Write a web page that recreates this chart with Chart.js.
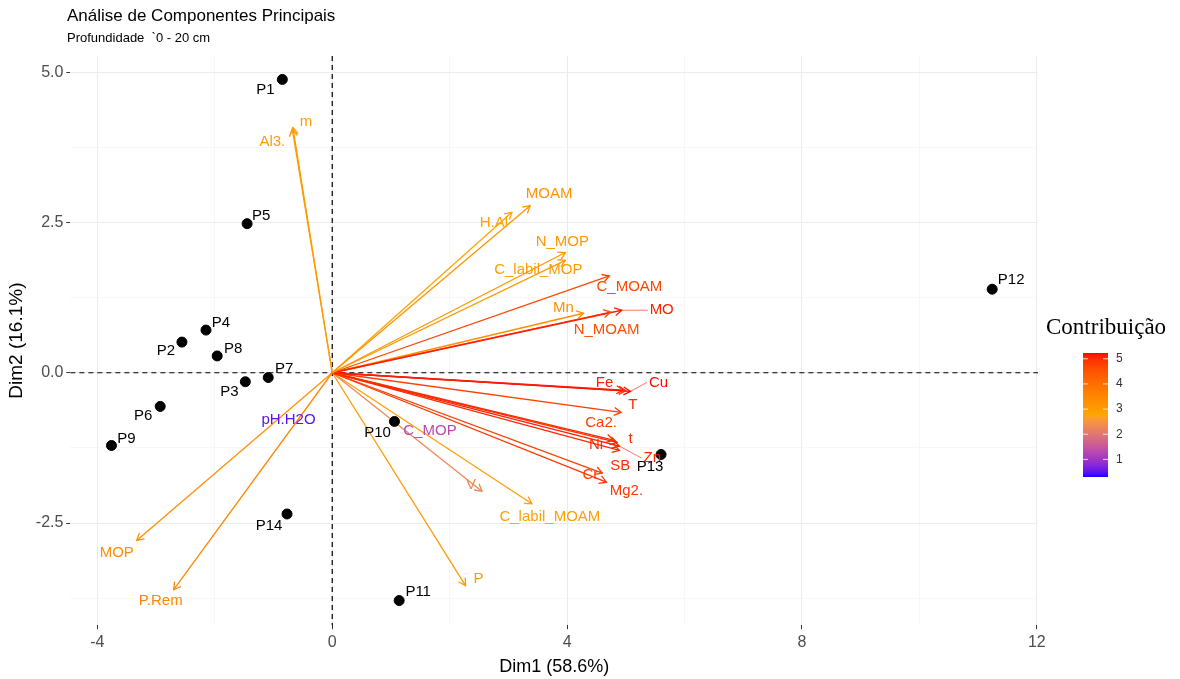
<!DOCTYPE html>
<html>
<head>
<meta charset="utf-8">
<title>PCA biplot</title>
<script src="https://cdn.jsdelivr.net/npm/chart.js@4.4.1/dist/chart.umd.min.js"></script>
<style>
  html, body { margin: 0; padding: 0; background: #fff; }
  #wrap { width: 1180px; height: 679px; position: relative; }
</style>
</head>
<body>
<div id="wrap"><canvas id="biplot"></canvas></div>
<script>
const chartTitle = 'Análise de Componentes Principais';
const chartSubtitle = 'Profundidade  `0 - 20 cm';
const xAxisTitle = 'Dim1 (58.6%)';
const yAxisTitle = 'Dim2 (16.1%)';
const legendTitle = 'Contribuição';

// individuals (sample points)
const indNames = ['P1', 'P2', 'P3', 'P4', 'P5', 'P6', 'P7', 'P8', 'P9', 'P10', 'P11', 'P12', 'P13', 'P14'];
const indX = [-0.85, -2.56, -1.48, -2.15, -1.45, -2.93, -1.09, -1.96, -3.76, 1.06, 1.14, 11.24, 5.60, -0.77];
const indY = [4.88, 0.51, -0.15, 0.71, 2.48, -0.56, -0.08, 0.28, -1.21, -0.81, -3.79, 1.39, -1.36, -2.35];

// variables (arrows from origin) and their contribution
const varNames = ['Al3.', 'm', 'MOAM', 'H.Al', 'N_MOP', 'C_labil_MOP', 'C_MOAM', 'MO', 'N_MOAM', 'Mn',
  'Fe', 'Cu', 'T', 'Ca2.', 't', 'Ni', 'Zn', 'SB', 'Cr', 'Mg2.',
  'V', 'C_labil_MOAM', 'P', 'MOP', 'P.Rem', 'pH.H2O', 'C_MOP'];
const varX = [-0.68, -0.67, 3.37, 3.06, 3.97, 3.97, 4.72, 4.93, 4.74, 4.28,
  4.96, 5.08, 5.00, 4.92, 4.79, 4.85, 4.89, 4.89, 4.60, 4.67,
  2.55, 3.40, 2.27, -3.33, -2.70, -0.03, 0.03];
const varY = [4.05, 4.08, 2.78, 2.67, 2.00, 1.87, 1.61, 1.04, 1.01, 0.99,
  -0.29, -0.31, -0.30, -0.66, -1.12, -1.16, -1.22, -1.29, -1.67, -1.82,
  -1.97, -2.18, -3.54, -2.79, -3.61, -0.02, -0.03];
const varContrib = [3.0, 3.0, 3.2, 2.8, 3.1, 3.0, 4.7, 5.1, 4.6, 3.3,
  5.1, 5.2, 5.0, 4.8, 5.0, 5.0, 5.1, 5.0, 4.8, 4.9,
  2.3, 2.9, 3.0, 3.3, 3.5, 0.5, 1.3];

// axes
const xTickValues = [-4, -2, 0, 2, 4, 6, 8, 10, 12];
const xTickLabels = ['-4', '', '0', '', '4', '', '8', '', '12'];
const yTickValues = [-3.75, -2.5, -1.25, 0, 1.25, 2.5, 3.75, 5];
const yTickLabels = ['', '-2.5', '', '0.0', '', '2.5', '', '5.0'];
const contribRange = [0.30, 5.23];
const contribTicks = [1, 2, 3, 4, 5];

// label nudges in px (repel-like placement), kept apart from the data
const indLabelNudge = {
  P1: [-17, 10], P2: [-16, 9], P3: [-16, 10], P4: [15, -7], P5: [14, -8], P6: [-17, 9], P7: [16, -9],
  P8: [16, -7], P9: [15, -7], P10: [-17, 11], P11: [19, -9], P12: [19, -9], P13: [-11, 12], P14: [-18, 12]
};
const varLabelNudge = {
  'Al3.': [-20, 13], 'm': [13, -6], 'MOAM': [19, -12], 'H.Al': [-18, 11], 'N_MOP': [-3, -11],
  'C_labil_MOP': [-27, 10], 'C_MOAM': [20, 11], 'MO': [40, 0, true], 'N_MOAM': [-4, 18], 'Mn': [-20, -5],
  'Fe': [-19, -7], 'Cu': [28, -9, true], 'T': [7, 14], 'Ca2.': [-20, 10], 't': [17, -1], 'Ni': [-21, 2],
  'Zn': [33, 12, true], 'SB': [1, 16], 'Cr': [-12, 2], 'Mg2.': [20, 9], 'V': [-11, -6],
  'C_labil_MOAM': [18, 13], 'P': [13, -7], 'MOP': [-20, 12], 'P.Rem': [-13, 11],
  'pH.H2O': [-42, 46], 'C_MOP': [96, 56]
};

// blue -> orange -> red, interpolated in Lab like ggplot
function hexToRgb(h) { return [1, 3, 5].map(i => parseInt(h.substr(i, 2), 16)); }
function rgbToLab(rgb) {
  const lin = rgb.map(c => { c /= 255; return c <= 0.04045 ? c / 12.92 : Math.pow((c + 0.055) / 1.055, 2.4); });
  const X = (lin[0] * 0.4124 + lin[1] * 0.3576 + lin[2] * 0.1805) / 0.95047;
  const Y = lin[0] * 0.2126 + lin[1] * 0.7152 + lin[2] * 0.0722;
  const Z = (lin[0] * 0.0193 + lin[1] * 0.1192 + lin[2] * 0.9505) / 1.08883;
  const f = t => t > 0.008856 ? Math.cbrt(t) : 7.787 * t + 16 / 116;
  return [116 * f(Y) - 16, 500 * (f(X) - f(Y)), 200 * (f(Y) - f(Z))];
}
function labToRgb(lab) {
  const fy = (lab[0] + 16) / 116, fx = fy + lab[1] / 500, fz = fy - lab[2] / 200;
  const inv = t => t > 0.206893 ? t * t * t : (t - 16 / 116) / 7.787;
  const X = inv(fx) * 0.95047, Y = inv(fy), Z = inv(fz) * 1.08883;
  const r = X * 3.2406 + Y * -1.5372 + Z * -0.4986;
  const g = X * -0.9689 + Y * 1.8758 + Z * 0.0415;
  const b = X * 0.0557 + Y * -0.2040 + Z * 1.0570;
  return [r, g, b].map(c => {
    c = c <= 0.0031308 ? 12.92 * c : 1.055 * Math.pow(c, 1 / 2.4) - 0.055;
    return Math.round(Math.max(0, Math.min(1, c)) * 255);
  });
}
const gradStops = ['#0000FF', '#FFA500', '#FF0000'].map(h => rgbToLab(hexToRgb(h)));
function contribColor(v) {
  let t = (v - contribRange[0]) / (contribRange[1] - contribRange[0]);
  t = Math.max(0, Math.min(1, t)) * (gradStops.length - 1);
  const i = Math.min(Math.floor(t), gradStops.length - 2);
  const f = t - i;
  const a = gradStops[i], b = gradStops[i + 1];
  const rgb = labToRgb([0, 1, 2].map(k => a[k] + (b[k] - a[k]) * f));
  return `rgb(${rgb[0]},${rgb[1]},${rgb[2]})`;
}

const FONT = "'Liberation Sans', Arial, sans-serif";

const datasets = [{
  label: 'individuals',
  data: indNames.map((n, i) => ({ x: indX[i], y: indY[i] })),
  backgroundColor: '#000',
  borderColor: '#000',
  pointRadius: 5,
  showLine: false,
}];
varNames.forEach((n, i) => {
  datasets.push({
    label: n,
    data: [{ x: 0, y: 0 }, { x: varX[i], y: varY[i] }],
    borderColor: contribColor(varContrib[i]),
    borderWidth: 1.3,
    pointRadius: 0,
    showLine: true,
  });
});

const biplotDecor = {
  id: 'biplotDecor',
  beforeDatasetsDraw(chart) {
    const { ctx, chartArea: a, scales: { x, y } } = chart;
    ctx.save();
    ctx.strokeStyle = '#000';
    ctx.lineWidth = 1.2;
    ctx.setLineDash([5, 4]);
    const x0 = x.getPixelForValue(0);
    const y0 = y.getPixelForValue(0);
    ctx.beginPath();
    ctx.moveTo(x0, a.top); ctx.lineTo(x0, a.bottom);
    ctx.moveTo(a.left, y0); ctx.lineTo(a.right, y0);
    ctx.stroke();
    ctx.restore();
  },
  afterDatasetsDraw(chart) {
    const { ctx } = chart;
    ctx.save();
    ctx.textAlign = 'center';
    ctx.textBaseline = 'middle';
    ctx.font = `15px ${FONT}`;
    // arrow heads + variable labels
    varNames.forEach((n, i) => {
      const meta = chart.getDatasetMeta(i + 1);
      const p0 = meta.data[0], p1 = meta.data[1];
      const col = contribColor(varContrib[i]);
      const dx = p1.x - p0.x, dy = p1.y - p0.y;
      const len = Math.hypot(dx, dy);
      ctx.strokeStyle = col;
      ctx.lineWidth = 1.3;
      if (len > 4) {
        const ang = Math.atan2(dy, dx), h = 8, spread = Math.PI / 6;
        ctx.beginPath();
        ctx.moveTo(p1.x - h * Math.cos(ang - spread), p1.y - h * Math.sin(ang - spread));
        ctx.lineTo(p1.x, p1.y);
        ctx.lineTo(p1.x - h * Math.cos(ang + spread), p1.y - h * Math.sin(ang + spread));
        ctx.stroke();
      }
      const nudge = varLabelNudge[n];
      const lx = p1.x + nudge[0], ly = p1.y + nudge[1];
      if (nudge[2]) {
        const w = ctx.measureText(n).width / 2 + 2;
        ctx.lineWidth = 0.6;
        ctx.beginPath();
        ctx.moveTo(p1.x, p1.y);
        ctx.lineTo(lx - Math.sign(nudge[0]) * w, ly);
        ctx.stroke();
      }
      ctx.fillStyle = col;
      ctx.fillText(n, lx, ly);
    });
    // individual labels
    const meta = chart.getDatasetMeta(0);
    ctx.fillStyle = '#000';
    indNames.forEach((n, i) => {
      const p = meta.data[i];
      const nudge = indLabelNudge[n];
      ctx.fillText(n, p.x + nudge[0], p.y + nudge[1]);
    });
    ctx.restore();
  },
  afterDraw(chart) {
    const { ctx } = chart;
    ctx.save();
    ctx.textBaseline = 'middle';
    ctx.textAlign = 'left';
    ctx.fillStyle = '#000';
    ctx.font = `17px ${FONT}`;
    ctx.fillText(chartTitle, 67, 16);
    ctx.font = `13px ${FONT}`;
    ctx.fillText(chartSubtitle, 67, 38);

    // colour bar legend
    ctx.font = "23px 'Liberation Serif', 'Times New Roman', serif";
    ctx.fillText(legendTitle, 1046, 328);
    const bx = 1083, bw = 25, top = 353, bot = 477;
    for (let yy = top; yy < bot; yy++) {
      const v = contribRange[1] - (yy + 0.5 - top) / (bot - top) * (contribRange[1] - contribRange[0]);
      ctx.fillStyle = contribColor(v);
      ctx.fillRect(bx, yy, bw, 1);
    }
    ctx.font = `12px ${FONT}`;
    contribTicks.forEach(t => {
      const yy = top + (contribRange[1] - t) / (contribRange[1] - contribRange[0]) * (bot - top);
      ctx.strokeStyle = 'rgba(255,255,255,0.8)';
      ctx.lineWidth = 1;
      ctx.beginPath();
      ctx.moveTo(bx, yy); ctx.lineTo(bx + 5, yy);
      ctx.moveTo(bx + bw - 5, yy); ctx.lineTo(bx + bw, yy);
      ctx.stroke();
      ctx.fillStyle = '#333';
      ctx.fillText(String(t), bx + bw + 8, yy);
    });
    ctx.restore();
  }
};

const isMajor = c => c.tick && String(c.tick.label) !== '';

new Chart(document.getElementById('biplot'), {
  type: 'scatter',
  data: { datasets },
  options: {
    responsive: true,
    maintainAspectRatio: false,
    animation: false,
    layout: { padding: { left: 1, right: 142, top: 56, bottom: 0 } },
    plugins: { legend: { display: false }, tooltip: { enabled: false } },
    scales: {
      x: {
        type: 'linear',
        min: -4.46,
        max: 12.02,
        afterBuildTicks: s => { s.ticks = xTickValues.map(v => ({ value: v })); },
        ticks: {
          autoSkip: false,
          maxRotation: 0,
          color: '#4D4D4D',
          font: { family: FONT, size: 16 },
          padding: 4,
          callback: (v, i) => xTickLabels[i],
        },
        grid: {
          color: c => (isMajor(c) ? '#EBEBEB' : '#F4F4F4'),
          lineWidth: c => (isMajor(c) ? 1 : 0.7),
          tickLength: 4,
          tickColor: c => (isMajor(c) ? '#333' : 'rgba(0,0,0,0)'),
        },
        border: { display: false },
        title: { display: true, text: xAxisTitle, color: '#000', font: { family: FONT, size: 18 }, padding: { top: 0, bottom: 1 } },
      },
      y: {
        type: 'linear',
        min: -4.2,
        max: 5.27,
        afterBuildTicks: s => { s.ticks = yTickValues.map(v => ({ value: v })); },
        ticks: {
          autoSkip: false,
          color: '#4D4D4D',
          font: { family: FONT, size: 16 },
          padding: 3,
          callback: (v, i) => yTickLabels[i],
        },
        grid: {
          color: c => (isMajor(c) ? '#EBEBEB' : '#F4F4F4'),
          lineWidth: c => (isMajor(c) ? 1 : 0.7),
          tickLength: 4,
          tickColor: c => (isMajor(c) ? '#333' : 'rgba(0,0,0,0)'),
        },
        border: { display: false },
        title: { display: true, text: yAxisTitle, color: '#000', font: { family: FONT, size: 19 }, padding: { top: 4, bottom: 5 } },
      },
    },
  },
  plugins: [biplotDecor],
});
</script>
</body>
</html>
